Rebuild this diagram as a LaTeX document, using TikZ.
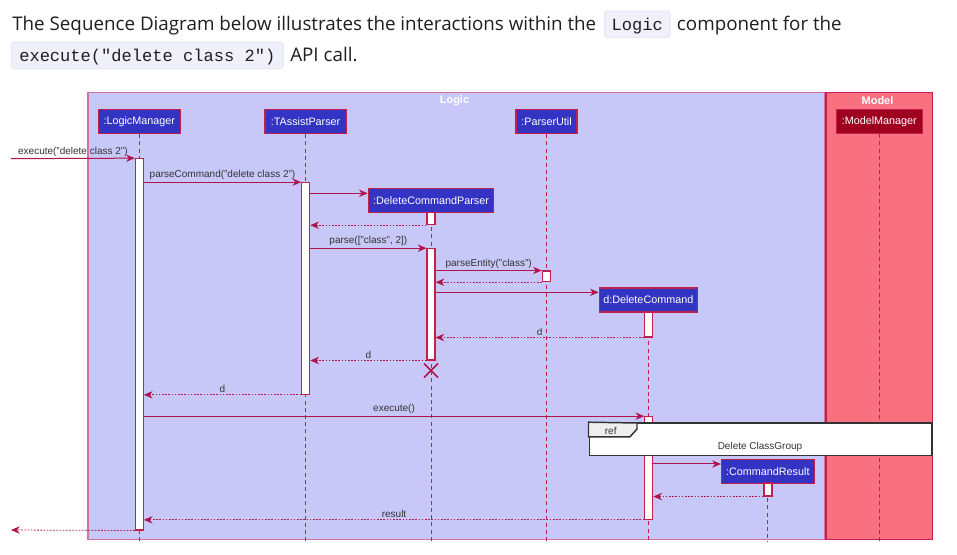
\documentclass[tikz,border=0pt]{standalone}
\usepackage{fontspec}
\setmainfont{Open Sans}
\setsansfont{Liberation Sans}
\setmonofont{Liberation Mono}
\usetikzlibrary{arrows.meta,fit,calc}

\definecolor{logicfill}{HTML}{C8C8F8}
\definecolor{logicborder}{HTML}{D0749C}
\definecolor{modelfill}{HTML}{F97081}
\definecolor{modelborder}{HTML}{C0204E}
\definecolor{partfill}{HTML}{3333C4}
\definecolor{mmfill}{HTML}{A00020}
\definecolor{crim}{HTML}{B0144A}
\definecolor{txt}{HTML}{333333}
\definecolor{headtxt}{HTML}{1F1F1F}
\definecolor{codebg}{HTML}{F0F0FA}
\definecolor{codeborder}{HTML}{E2E2F0}
\definecolor{tabfill}{HTML}{EEEEEE}
\definecolor{refborder}{HTML}{333333}

\tikzset{
  headtext/.style={anchor=base west, inner sep=0, text=headtxt, font=\fontsize{14.1}{16}\selectfont},
  codebox/.style={draw=codeborder, fill=codebg, rounded corners=2.5pt, inner sep=0, line width=0.6pt},
  codetext/.style={anchor=base, inner sep=0, text=headtxt, font=\ttfamily\fontsize{12.8}{14}\selectfont},
  part/.style={draw=modelborder, fill=partfill, line width=0.9pt, text=white, inner sep=0,
    minimum height=18pt, font=\sffamily\fontsize{8.1}{9}\selectfont},
  life/.style={draw=modelborder, line width=0.7pt, dash pattern=on 3pt off 2.4pt},
  act/.style={draw=modelborder, fill=white, line width=0.8pt, inner sep=0},
  msg/.style={draw=crim, line width=0.75pt, -{Stealth[length=6.5pt,width=5.5pt,inset=2pt]}},
  ret/.style={draw=crim, line width=0.6pt, dash pattern=on 1.2pt off 1.2pt,
    -{Stealth[length=6.5pt,width=5.5pt,inset=2pt]}},
  lbl/.style={text=txt, font=\sffamily\fontsize{7.5}{8}\selectfont, inner sep=1.2pt},
  frametitle/.style={text=white, font=\sffamily\bfseries\fontsize{8.2}{9}\selectfont, inner sep=0},
}

\begin{document}
\begin{tikzpicture}[x=0.75pt, y=-0.75pt]
\fill[white] (0,0) rectangle (957,555);
\useasboundingbox (0,0) rectangle (957,555);

% header text
\node[headtext] (h1) at (12,30.5) {The Sequence Diagram below illustrates the interactions within the};
\node[codebox, fit={(604.3,11)(670.3,37.3)}] (c1) {};
\node[codetext] (c1t) at (637.3,30.5) {Logic};
\node[headtext] (h2) at (676.7,30.5) {component for the};
\node[codebox, fit={(11.3,42)(283.3,68.7)}] (c2) {};
\node[codetext] (c2t) at (147.3,61.5) {execute("delete class 2")};
\node[headtext] (h3) at (290,61.5) {API call.};

% frames
\node[draw=logicborder, fill=logicfill, line width=0.8pt, inner sep=0, fit={(88,92.3)(824.3,539.3)}] (logic) {};
\node[draw=modelborder, fill=modelfill, line width=0.8pt, inner sep=0, fit={(826,92.3)(932.5,539.3)}] (model) {};
\node[frametitle] (logict) at (454.5,101) {Logic};
\node[frametitle] (modelt) at (877.5,101) {Model};

% participants
\node[part, minimum width=61.8pt] (lm) at (139.3,121.7) {:LogicManager};
\node[part, minimum width=61pt] (tp) at (305.6,121.7) {:TAssistParser};
\node[part, minimum width=45.8pt] (pu) at (546.5,121.7) {:ParserUtil};
\node[part, fill=mmfill, minimum width=64.8pt] (mm) at (879.3,121.7) {:ModelManager};
\node[part, minimum width=94pt] (dcp) at (431,200.3) {:DeleteCommandParser};
\node[part, minimum width=73.5pt] (dc) at (648.3,300) {d:DeleteCommand};
\node[part, minimum width=69.5pt] (cr) at (767.8,471.2) {:CommandResult};

% lifelines
\draw[life] (lm.south) -- (lm.south |- 0,541.5);
\draw[life] (tp.south) -- (tp.south |- 0,541.5);
\draw[life] (pu.south) -- (pu.south |- 0,541.5);
\draw[life] (mm.south) -- (mm.south |- 0,541.5);
\draw[life] (dcp.south) -- (dcp.south |- 0,541.5);
\draw[life] (dc.south) -- (dc.south |- 0,541.5);
\draw[life] (cr.south) -- (cr.south |- 0,541.5);

% activation bars
\node[act, fit={(135.3,158.7)(143.3,530)}] (lmA) {};
\node[act, fit={(301.7,182.7)(309.7,394.3)}] (tpA) {};
\node[act, fit={(427,212.3)(435,224.7)}] (dcpA1) {};
\node[act, fit={(427,248.7)(435,360)}] (dcpA2) {};
\node[act, fit={(542.3,271)(550.3,281.7)}] (puA) {};
\node[act, fit={(644.3,312.3)(652.3,337)}] (dcA1) {};
\node[act, fit={(644.8,416.7)(652.8,519.3)}] (dcA2) {};
\node[act, fit={(764,483)(772,496)}] (crA) {};

% messages
\coordinate (extIn) at (11,158.7);
\coordinate (extOut) at (11,530);
\draw[msg] (extIn) -- node[lbl, above] {execute("delete class 2")} (lmA.north west);
\draw[msg] (lmA.east |- tpA.north) -- node[lbl, above] {parseCommand("delete class 2")} (tpA.north west);
\draw[msg] (tpA.east |- 0,193.3) -- (dcp.west |- 0,193.3);
\draw[ret] (dcpA1.south west) -- (tpA.east |- dcpA1.south);
\draw[msg] (tpA.east |- dcpA2.north) -- node[lbl, above] {parse(["class", 2])} (dcpA2.north west);
\draw[msg] (dcpA2.east |- puA.north) -- node[lbl, above] {parseEntity("class")} (puA.north west);
\draw[ret] (puA.south west) -- (dcpA2.east |- puA.south);
\draw[msg] (dcpA2.east |- 0,292.3) -- (dc.west |- 0,292.3);
\draw[ret] (dcA1.south west) -- node[lbl, above] {d} (dcpA2.east |- dcA1.south);
\draw[ret] (dcpA2.south west) -- node[lbl, above] {d} (tpA.east |- dcpA2.south);
\draw[ret] (tpA.south west) -- node[lbl, above] {d} (lmA.east |- tpA.south);
\draw[msg] (lmA.east |- dcA2.north) -- node[lbl, above] {execute()} (dcA2.north west);

% destroy
\coordinate (xc) at (431,370.5);
\draw[crim, line width=1.1pt] ($(xc)+(-7,-7)$) -- ($(xc)+(7,7)$);
\draw[crim, line width=1.1pt] ($(xc)+(-7,7)$) -- ($(xc)+(7,-7)$);

% ref box
\node[draw=refborder, fill=white, line width=1.2pt, inner sep=0, fit={(589.3,423)(932,455.7)}] (ref) {};
\draw[draw=refborder, fill=tabfill, line width=1.1pt] (ref.north west) -- (637,423) -- (637,429) -- (630,436.8) -- (ref.west |- 0,436.8) -- cycle;
\node[lbl, anchor=west] (reft) at (603,431) {ref};
\node[lbl] (refd) at (760,446.5) {Delete ClassGroup};

\draw[msg] (dcA2.east |- 0,464) -- (cr.west |- 0,464);
\draw[ret] (crA.south west) -- (dcA2.east |- crA.south);
\draw[ret] (dcA2.south west) -- node[lbl, above] {result} (lmA.east |- dcA2.south);
\draw[ret] (lmA.south west) -- (extOut);
\end{tikzpicture}
\end{document}
